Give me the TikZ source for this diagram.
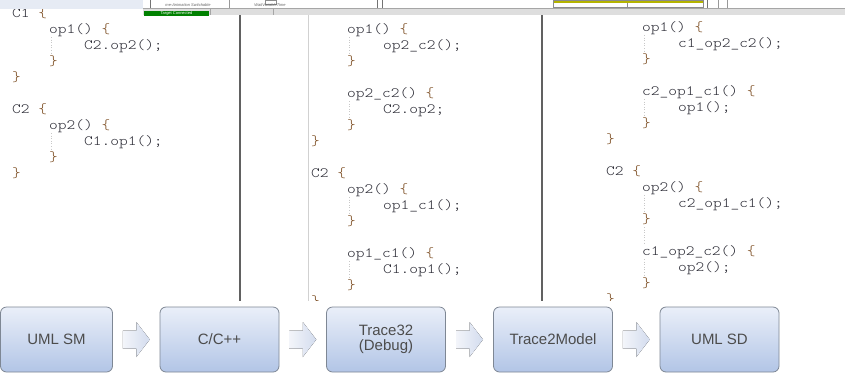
\documentclass[tikz,border=0pt]{standalone}
\usepackage{fontspec}
\setmainfont{Liberation Sans}
\newfontfamily\codefont[FakeStretch=1.17]{lmmonolt10-regular.otf}
\usetikzlibrary{shadings}
\definecolor{codegray}{HTML}{2A2A34}
\definecolor{bracecol}{HTML}{7A4A1E}
\definecolor{guide}{HTML}{C8C8C8}
\definecolor{bandblue}{HTML}{E6EBF4}
\definecolor{boxtop}{HTML}{EAEFF9}
\definecolor{boxbot}{HTML}{B2C5E6}
\definecolor{boxline}{HTML}{7E8794}
\definecolor{arrl}{HTML}{F3F5FA}
\definecolor{arrr}{HTML}{D3DCEE}
\definecolor{olive}{HTML}{B4B400}
\newcommand{\LB}{{\color{bracecol}\{}}
\newcommand{\RB}{{\color{bracecol}\}}}
\tikzset{
  code/.style={anchor=base west, inner sep=0pt, font=\codefont\fontsize{14.2}{16}\selectfont, text=codegray},
  guideline/.style={draw=guide, dotted, line width=0.6pt},
  stagebox/.style={draw=boxline, line width=0.8pt, rounded corners=6pt, top color=boxtop, bottom color=boxbot,
     minimum width=119pt, minimum height=65pt, inner sep=2pt, align=center,
     font=\fontsize{15}{17}\selectfont, text=black!70},
  flowarrow/.style={left color=arrl, right color=arrr, draw=none},
  tiny/.style={inner sep=0pt, font=\fontsize{4}{4}\selectfont},
}
\begin{document}
\begin{tikzpicture}[x=1pt, y=-1pt]
\useasboundingbox (0,0) rectangle (845,376);
\fill[white] (0,0) rectangle (845,376);

% ---------- code panels ----------
\begin{scope}
\clip (0,8) rectangle (845,300.5);
% panel 1 (y = 13 + 16k, baseline +4)
\node[code] (p1a) at (12,17)  {C1 \LB};
\node[code] (p1b) at (49,33)  {op1() \LB};
\node[code] (p1c) at (84,49)  {C2.op2();};
\node[code] (p1d) at (49,65)  {\RB};
\node[code] (p1e) at (12,81)  {\RB};
\node[code] (p1f) at (12,113) {C2 \LB};
\node[code] (p1g) at (49,129) {op2() \LB};
\node[code] (p1h) at (84,145) {C1.op1();};
\node[code] (p1i) at (49,161) {\RB};
\node[code] (p1j) at (12,177) {\RB};
\draw[guideline] (51,37) -- (51,55);
\draw[guideline] (51,133) -- (51,151);

% panel 2 (y = 13 + 16k)
\node[code] (p2a) at (347,33)  {op1() \LB};
\node[code] (p2b) at (383,49)  {op2\_c2();};
\node[code] (p2c) at (347,65)  {\RB};
\node[code] (p2d) at (347,97)  {op2\_c2() \LB};
\node[code] (p2e) at (383,113) {C2.op2;};
\node[code] (p2f) at (347,129) {\RB};
\node[code] (p2g) at (311,145) {\RB};
\node[code] (p2h) at (311,177) {C2 \LB};
\node[code] (p2i) at (347,193) {op2() \LB};
\node[code] (p2j) at (383,209) {op1\_c1();};
\node[code] (p2k) at (347,225) {\RB};
\node[code] (p2l) at (347,257) {op1\_c1() \LB};
\node[code] (p2m) at (383,273) {C1.op1();};
\node[code] (p2n) at (347,289) {\RB};
\node[code] (p2o) at (311,305) {\RB};
\draw[guideline] (349,37) -- (349,55);
\draw[guideline] (349,101) -- (349,119);
\draw[guideline] (349,197) -- (349,215);
\draw[guideline] (349,261) -- (349,279);

% panel 3 (y = 11 + 16k)
\node[code] (p3a) at (642,31)  {op1() \LB};
\node[code] (p3b) at (678,47)  {c1\_op2\_c2();};
\node[code] (p3c) at (642,63)  {\RB};
\node[code] (p3d) at (642,95)  {c2\_op1\_c1() \LB};
\node[code] (p3e) at (678,111) {op1();};
\node[code] (p3f) at (642,127) {\RB};
\node[code] (p3g) at (606,143) {\RB};
\node[code] (p3h) at (606,175) {C2 \LB};
\node[code] (p3i) at (642,191) {op2() \LB};
\node[code] (p3j) at (678,207) {c2\_op1\_c1();};
\node[code] (p3k) at (642,223) {\RB};
\node[code] (p3l) at (642,255) {c1\_op2\_c2() \LB};
\node[code] (p3m) at (678,271) {op2();};
\node[code] (p3n) at (642,287) {\RB};
\node[code] (p3o) at (606,303) {\RB};
\draw[guideline] (644,35) -- (644,53);
\draw[guideline] (644,99) -- (644,117);
\draw[guideline] (644,195) -- (644,213);
\draw[guideline] (644,227) -- (644,245);
\draw[guideline] (644,259) -- (644,277);
\end{scope}

% panel dividers
\draw[black!62, line width=1.3pt] (240,12) -- (240,301);
\draw[black!62, line width=1.3pt] (542,12) -- (542,301);
\draw[black!18, line width=0.8pt] (308,14) -- (308,301);

% ---------- top screenshot strip ----------
\fill[bandblue] (0,0) rectangle (143,9);
\fill[white] (143,0) rectangle (845,8);
\fill[black!13] (143,8) rectangle (845,15);
\draw[black!35, line width=0.5pt] (143,8.2) -- (845,8.2);
\draw[black!55, line width=0.6pt] (150,0) -- (150,7.5);
\draw[black!40, line width=0.5pt] (229,0) -- (229,7.5);
\draw[black!55, line width=0.6pt] (377,0) -- (377,7.5);
\draw[black!55, line width=0.6pt] (382,0) -- (382,7.5);
\draw[black!55, line width=0.8pt] (707,0) -- (707,7.5);
\draw[black!40, line width=0.6pt] (718,0) -- (718,7.5);
\draw[black!40, line width=0.6pt] (727,0) -- (727,7.5);
\draw[black!45, line width=0.5pt] (265,0) rectangle (276,4.5);
\draw[black!35, line width=0.5pt] (210,9) -- (210,15);
\draw[black!35, line width=0.5pt] (273,9) -- (273,15);
\fill[olive] (553,0) rectangle (703,3);
\draw[black!45, line width=0.5pt] (553,0) rectangle (703,7.5);
\draw[black!45, line width=0.5pt] (627,3) -- (627,7.5);
\node[tiny, text=black!60, font=\itshape\fontsize{4}{4}\selectfont] (tb1) at (188,5) {me-Animation Switchable};
\node[tiny, text=black!60, font=\itshape\fontsize{4}{4}\selectfont] (tb2) at (270,5.5) {WaitVariableTime};
\fill[green!50!black] (144,10.5) rectangle (209,16);
\node[tiny, text=white] (tb3) at (176.5,13.5) {Target Connected};

% ---------- bottom flow ----------
\node[stagebox, minimum width=112pt] (s1) at (56.5,339.5) {UML SM};
\node[stagebox] (s2) at (219.5,339.5) {C/C++};
\node[stagebox] (s3) at (386,339.5) {Trace32\\[-2pt](Debug)};
\node[stagebox] (s4) at (553,339.5) {Trace2Model};
\node[stagebox] (s5) at (719.5,339.5) {UML SD};

\foreach \a/\b in {s1/s2, s2/s3, s3/s4, s4/s5}{
  \path (\a.east) -- (\b.west) coordinate[pos=0.5] (m);
  \fill[flowarrow] ([xshift=-13.5pt,yshift=-9pt]m) -- ([xshift=0pt,yshift=-9pt]m)
     -- ([xshift=0pt,yshift=-17.5pt]m) -- ([xshift=13.5pt]m) -- ([xshift=0pt,yshift=17.5pt]m)
     -- ([xshift=0pt,yshift=9pt]m) -- ([xshift=-13.5pt,yshift=9pt]m) -- cycle;
}
\end{tikzpicture}
\end{document}
